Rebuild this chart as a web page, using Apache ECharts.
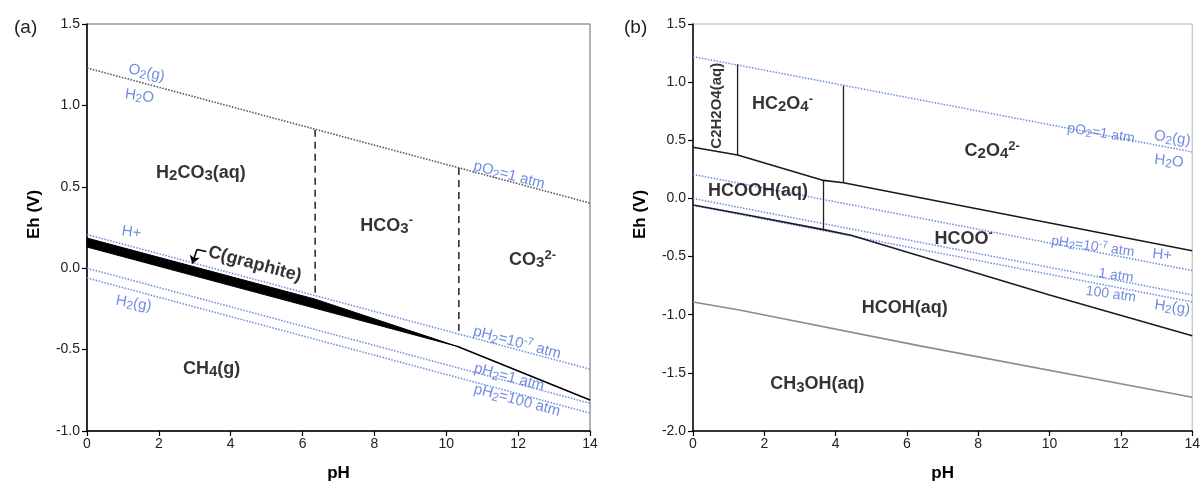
<!DOCTYPE html>
<html>
<head>
<meta charset="utf-8">
<script src="https://cdn.jsdelivr.net/npm/echarts@6/dist/echarts.min.js"></script>
<style>
  html, body { margin: 0; padding: 0; background: #fff; }
  #chart { width: 1203px; height: 487px; }
</style>
</head>
<body>
<div id="chart"></div>
<script>
// ---- axis ranges ----
const phRange = [0, 14];
const ehRangeA = [-1.0, 1.5];
const ehRangeB = [-2.0, 1.5];

// ---- water stability limits: Eh (V) at pH 0 and pH 14 ----
const phEnds = [0, 14];
const o2WaterA = [1.23, 0.40];
const o2WaterB = [1.22, 0.40];
const h2Minus7 = [0.207, -0.62];
const h2One = [0.0, -0.83];
const h2Hundred = [-0.06, -0.89];

// ---- panel (a): inorganic carbon, [pH, Eh] ----
const graphiteTop = [[0, 0.185], [6.35, -0.19], [10.3, -0.48]];
const graphiteBottom = [[0, 0.13], [10.3, -0.48]];
const carbonateMethane = [[10.3, -0.48], [14, -0.81]];
const h2co3Hco3 = [[6.35, 0.85], [6.35, -0.17]];
const hco3Co3 = [[10.35, 0.615], [10.35, -0.40]];
const pointerTail = [[3.32, 0.103], [3.06, 0.115]];
const pointerHead = [[3.06, 0.115], [2.93, 0.027]];

// ---- panel (b): organic carbon, [pH, Eh] ----
const oxalicAcidEdge = [[1.25, 1.153], [1.25, 0.373]];
const bioxalateEdge = [[4.22, 0.97], [4.22, 0.135]];
const formicAcidEdge = [[3.66, 0.155], [3.66, -0.268]];
const oxalateFormate = [[0, 0.44], [1.25, 0.373], [3.66, 0.155], [4.22, 0.135], [14, -0.45]];
const formateFormaldehyde = [[0, -0.057], [1.3, -0.13], [3.66, -0.268], [4.43, -0.316], [10, -0.83], [14, -1.18]];
const formaldehydeMethanol = [[0, -0.89], [1.3, -0.96], [6.4, -1.27], [14, -1.71]];

// ---- text annotations ----
const labelsA = [
  { t: '{b|O}{bs|2}{b|(g)}', at: [1.66, 1.20], rot: -12 },
  { t: '{b|H}{bs|2}{b|O}', at: [1.46, 1.057], rot: -8 },
  { t: '{b|pO}{bs|2}{b|=1 atm}', at: [11.75, 0.571], rot: -15 },
  { t: '{r|H}{rs|2}{r|CO}{rs|3}{r|(aq)}', at: [3.17, 0.584] },
  { t: '{r|HCO}{rs|3}{ru|-}', at: [8.34, 0.262] },
  { t: '{r|CO}{rs|3}{ru|2-}', at: [12.4, 0.05] },
  { t: '{b|H+}', at: [1.24, 0.22], rot: -8 },
  { t: '{r|C(graphite)}', at: [4.67, 0.025], rot: -15 },
  { t: '{b|H}{bs|2}{b|(g)}', at: [1.30, -0.217], rot: -10 },
  { t: '{r|CH}{rs|4}{r|(g)}', at: [3.47, -0.618] },
  { t: '{b|pH}{bs|2}{b|=10}{bu|-7}{b| atm}', at: [11.97, -0.458], rot: -15 },
  { t: '{b|pH}{bs|2}{b|=1 atm}', at: [11.75, -0.670], rot: -15 },
  { t: '{b|pH}{bs|2}{b|=100 atm}', at: [11.97, -0.812], rot: -15 }
];
const labelsB = [
  { t: '{rv|C2H2O4(aq)}', at: [0.66, 0.797], rot: 90 },
  { t: '{r|HC}{rs|2}{r|O}{rs|4}{ru|-}', at: [2.51, 0.81] },
  { t: '{r|C}{rs|2}{r|O}{rs|4}{ru|2-}', at: [8.39, 0.407] },
  { t: '{r|HCOOH(aq)}', at: [1.82, 0.065] },
  { t: '{r|HCOO}{ru|-}', at: [7.59, -0.347] },
  { t: '{r|HCOH(aq)}', at: [5.94, -0.94] },
  { t: '{r|CH}{rs|3}{r|OH(aq)}', at: [3.49, -1.60] },
  { t: '{c|pO}{cs|2}{c|=1 atm}', at: [11.44, 0.559], rot: -9 },
  { t: '{b|O}{bs|2}{b|(g)}', at: [13.44, 0.517], rot: -8 },
  { t: '{b|H}{bs|2}{b|O}', at: [13.35, 0.32], rot: -6 },
  { t: '{c|pH}{cs|2}{c|=10}{cu|-7}{c| atm}', at: [11.21, -0.415], rot: -8 },
  { t: '{b|H+}', at: [13.16, -0.486], rot: -6 },
  { t: '{c|1 atm}', at: [11.86, -0.664], rot: -8 },
  { t: '{c|100 atm}', at: [11.72, -0.825], rot: -8 },
  { t: '{b|H}{bs|2}{b|(g)}', at: [13.44, -0.938], rot: -8 }
];

// ---- styling ----
const FONT = '"Liberation Sans", Arial, Helvetica, sans-serif';
const BLUE_TEXT = '#4d6fd6';
const BLUE_LINE = '#6a8be0';
const INK = '#000';

const rich = {
  r:  { fontFamily: FONT, fontWeight: 'bold', fontSize: 18, color: INK },
  rv: { fontFamily: FONT, fontWeight: 'bold', fontSize: 15, color: INK },
  rs: { fontFamily: FONT, fontWeight: 'bold', fontSize: 15, color: INK, padding: [6, 0, 0, 0] },
  ru: { fontFamily: FONT, fontWeight: 'bold', fontSize: 13, color: INK, padding: [0, 0, 10, 0] },
  b:  { fontFamily: FONT, fontSize: 15, color: BLUE_TEXT },
  bs: { fontFamily: FONT, fontSize: 12, color: BLUE_TEXT, padding: [6, 0, 0, 0] },
  bu: { fontFamily: FONT, fontSize: 11, color: BLUE_TEXT, padding: [0, 0, 8, 0] },
  c:  { fontFamily: FONT, fontSize: 14, color: BLUE_TEXT },
  cs: { fontFamily: FONT, fontSize: 11, color: BLUE_TEXT, padding: [5, 0, 0, 0] },
  cu: { fontFamily: FONT, fontSize: 10, color: BLUE_TEXT, padding: [0, 0, 7, 0] }
};

function pairs(ys) { return phEnds.map((p, i) => [p, ys[i]]); }

function lineSeries(idx, data, color, width, dash) {
  return {
    type: 'line', xAxisIndex: idx, yAxisIndex: idx, data: data,
    showSymbol: false, symbol: 'none', silent: true, animation: false,
    lineStyle: { color: color, width: width, type: dash || 'solid' },
    z: 3
  };
}

function pointerSeries(coords, ends) {
  return {
    type: 'lines', coordinateSystem: 'cartesian2d', xAxisIndex: 0, yAxisIndex: 0,
    silent: true, animation: false, z: 6,
    symbol: ends, symbolSize: 8,
    lineStyle: { color: INK, width: 1.6, opacity: 1, curveness: 0 },
    data: [{ coords: coords }]
  };
}

function labelSeries(idx, list) {
  return {
    type: 'scatter', xAxisIndex: idx, yAxisIndex: idx, symbolSize: 0,
    silent: true, animation: false, z: 10,
    data: list.map(l => ({ value: l.at, txt: l.t, label: { rotate: l.rot || 0 } })),
    label: {
      show: true, position: 'inside', formatter: p => p.data.txt, rich: rich
    }
  };
}

function xAxis(idx) {
  return {
    gridIndex: idx, type: 'value', min: phRange[0], max: phRange[1], interval: 2,
    name: 'pH', nameLocation: 'middle', nameGap: 34,
    nameTextStyle: { fontFamily: FONT, fontWeight: 'bold', fontSize: 17, color: INK },
    axisLine: { onZero: false, lineStyle: { color: INK, width: 1.5 } },
    axisTick: { length: 5, lineStyle: { color: INK, width: 1.2 } },
    axisLabel: { fontFamily: FONT, fontSize: 14, color: '#222', margin: 6 },
    splitLine: { show: false }
  };
}

function yAxis(idx, range) {
  return {
    gridIndex: idx, type: 'value', min: range[0], max: range[1], interval: 0.5,
    name: 'Eh (V)', nameLocation: 'middle', nameGap: 44,
    nameTextStyle: { fontFamily: FONT, fontWeight: 'bold', fontSize: 17, color: INK, padding: [0, 0, 0, 26] },
    axisLine: { onZero: false, lineStyle: { color: INK, width: 1.5 } },
    axisTick: { length: 5, lineStyle: { color: INK, width: 1.2 } },
    axisLabel: { fontFamily: FONT, fontSize: 14, color: '#222', margin: 7, formatter: v => v.toFixed(1) },
    splitLine: { show: false }
  };
}

const dotted = [1.5, 1.5];

const series = [
  // ----- panel (a) -----
  lineSeries(0, pairs(o2WaterA), '#555', 1.6, dotted),
  lineSeries(0, pairs(h2Minus7), BLUE_LINE, 1.5, dotted),
  lineSeries(0, pairs(h2One), BLUE_LINE, 1.5, dotted),
  lineSeries(0, pairs(h2Hundred), BLUE_LINE, 1.5, dotted),
  {
    type: 'custom', xAxisIndex: 0, yAxisIndex: 0, data: [[0, 0]], silent: true, animation: false, z: 4,
    renderItem: (params, api) => ({
      type: 'polygon',
      shape: { points: graphiteTop.concat(graphiteBottom.slice().reverse()).map(p => api.coord(p)) },
      style: { fill: '#000', stroke: '#000', lineWidth: 1 }
    })
  },
  lineSeries(0, carbonateMethane, INK, 1.6),
  lineSeries(0, h2co3Hco3, '#222', 1.5, [7, 5]),
  lineSeries(0, hco3Co3, '#222', 1.5, [7, 5]),
  pointerSeries(pointerTail, ['none', 'none']),
  pointerSeries(pointerHead, ['none', 'arrow']),
  labelSeries(0, labelsA),

  // ----- panel (b) -----
  lineSeries(1, pairs(o2WaterB), BLUE_LINE, 1.5, dotted),
  lineSeries(1, pairs(h2Minus7), BLUE_LINE, 1.5, dotted),
  lineSeries(1, pairs(h2One), BLUE_LINE, 1.5, dotted),
  lineSeries(1, pairs(h2Hundred), BLUE_LINE, 1.5, dotted),
  lineSeries(1, oxalicAcidEdge, '#222', 1.3),
  lineSeries(1, bioxalateEdge, '#222', 1.3),
  lineSeries(1, formicAcidEdge, '#222', 1.3),
  lineSeries(1, oxalateFormate, '#1a1a1a', 1.6),
  lineSeries(1, formateFormaldehyde, '#1a1a2a', 1.6),
  lineSeries(1, formaldehydeMethanol, '#8c8c8c', 1.6),
  labelSeries(1, labelsB)
];

const chart = echarts.init(document.getElementById('chart'), null, { renderer: 'canvas' });
chart.setOption({
  backgroundColor: '#fff',
  animation: false,
  title: [
    { text: '(a)', left: 9, top: 13, textStyle: { fontFamily: FONT, fontSize: 19, fontWeight: 'normal', color: '#222' } },
    { text: '(b)', left: 619, top: 13, textStyle: { fontFamily: FONT, fontSize: 19, fontWeight: 'normal', color: '#222' } }
  ],
  grid: [
    { left: 87, top: 24, width: 503, height: 412, show: true, borderColor: '#666', borderWidth: 1, backgroundColor: 'transparent' },
    { left: 693, top: 24, width: 502, height: 413, show: true, borderColor: '#b5b5b5', borderWidth: 1, backgroundColor: 'transparent' }
  ],
  xAxis: [xAxis(0), xAxis(1)],
  yAxis: [yAxis(0, ehRangeA), yAxis(1, ehRangeB)],
  series: series
});
</script>
</body>
</html>
